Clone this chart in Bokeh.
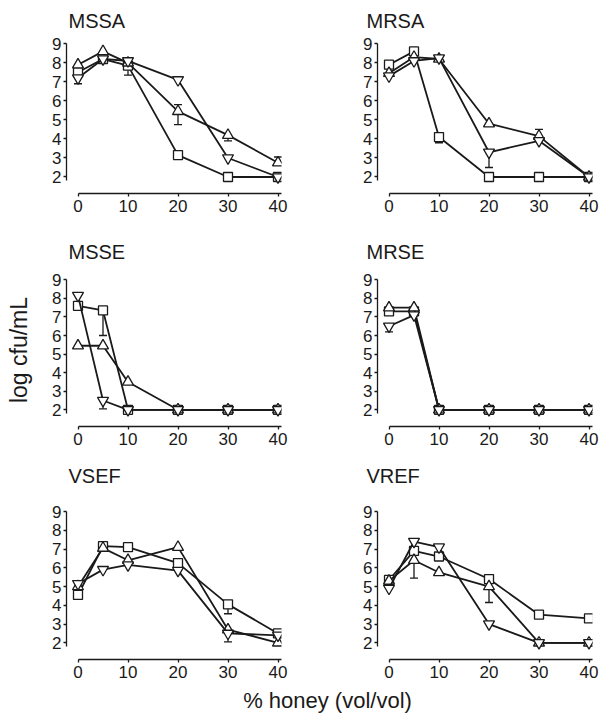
from bokeh.plotting import figure
from bokeh.models import Range1d, FixedTicker, Whisker, TeeHead, ColumnDataSource
from bokeh.layouts import column, row
from bokeh.embed import file_html
from bokeh.resources import INLINE
from bokeh.core.properties import value

# ---------------- data ----------------
honey = [0, 5, 10, 20, 30, 40]
x_ticks = [0, 10, 20, 30, 40]
y_ticks = [2, 3, 4, 5, 6, 7, 8, 9]
panel_names = ["MSSA", "MRSA", "MSSE", "MRSE", "VSEF", "VREF"]

square_vals = {
    "MSSA": [7.5, 8.2, 7.85, 3.15, 2.0, 2.0],
    "MRSA": [7.9, 8.6, 4.1, 2.0, 2.0, 2.0],
    "MSSE": [7.6, 7.35, 2.0, 2.0, 2.0, 2.0],
    "MRSE": [7.3, 7.3, 2.0, 2.0, 2.0, 2.0],
    "VSEF": [4.55, 7.15, 7.1, 6.25, 4.05, 2.5],
    "VREF": [5.35, 6.9, 6.6, 5.4, 3.5, 3.3],
}
triangle_vals = {
    "MSSA": [7.9, 8.6, 8.0, 5.45, 4.2, 2.75],
    "MRSA": [7.45, 8.3, 8.2, 4.8, 4.15, 2.0],
    "MSSE": [5.45, 5.45, 3.5, 2.0, 2.0, 2.0],
    "MRSE": [7.5, 7.5, 2.0, 2.0, 2.0, 2.0],
    "VSEF": [5.0, 7.05, 6.4, 7.1, 2.7, 2.0],
    "VREF": [5.3, 6.4, 5.75, 5.0, 2.0, 2.0],
}
invtri_vals = {
    "MSSA": [7.2, 8.2, 8.1, 7.1, 3.0, 2.0],
    "MRSA": [7.3, 8.1, 8.25, 3.3, 3.9, 2.0],
    "MSSE": [8.15, 2.5, 2.0, 2.0, 2.0, 2.0],
    "MRSE": [6.5, 7.1, 2.0, 2.0, 2.0, 2.0],
    "VSEF": [5.15, 5.9, 6.15, 5.85, 2.5, 2.4],
    "VREF": [4.9, 7.4, 7.1, 3.0, 2.0, 2.0],
}

# error bars (panel, x, lower end, upper end)
err_panel = ["MSSA", "MSSA", "MSSA", "MSSA", "MSSA", "MRSA", "MRSA", "MRSA",
             "MSSE", "MSSE", "MRSE", "VSEF", "VSEF", "VREF", "VREF"]
err_x = [0, 10, 20, 30, 40, 10, 20, 30, 5, 5, 0, 30, 30, 5, 20]
err_lo = [6.9, 7.35, 4.75, 3.9, 2.75, 3.8, 2.5, 4.15, 2.05, 6.0, 6.2, 3.55, 2.05, 5.45, 4.15]
err_hi = [7.2, 7.85, 5.8, 4.2, 3.05, 4.1, 3.3, 4.5, 2.5, 7.35, 6.5, 4.05, 2.5, 6.4, 5.0]

y_label = "log cfu/mL"
x_label = "% honey (vol/vol)"

# ---------------- styling ----------------
FONT = "Liberation Sans"
INK = "#1a1a1a"
X0, X1 = -2.3, 40.7

# per row: strip height, title center (from strip bottom), panel top border,
#          frame height, y start, y end, panel bottom border
row_specs = [
    (33, 12.5, 4, 156, 1.133, 9.33, 30),
    (40, 11.5, 10, 153, 1.10, 9.34, 30),
    (39, 19.5, 10, 154, 1.11, 9.32, 26),
]
# per column: min_border_left, min_border_right, width, title x (in strip)
col_specs = [(66, 10, 291, 68), (86, 7, 308, 75)]


def blank(width, height):
    f = figure(width=width, height=height, x_range=Range1d(0, width),
               y_range=Range1d(0, height), output_backend="svg",
               toolbar_location=None, title=None,
               min_border_left=0, min_border_right=0,
               min_border_top=0, min_border_bottom=0)
    f.axis.visible = False
    f.grid.visible = False
    f.outline_line_color = None
    return f


def make_strip(idx):
    r, c = divmod(idx, 2)
    sh, tc = row_specs[r][0], row_specs[r][1]
    w, tx = col_specs[c][2], col_specs[c][3]
    s = blank(w, sh)
    s.text(x=[tx], y=[tc], text=[panel_names[idx]], text_align="left",
           text_baseline="middle", text_font=value(FONT),
           text_font_size="20px", text_color=INK)
    return s


def make_panel(idx):
    name = panel_names[idx]
    r, c = divmod(idx, 2)
    _, _, top, fh, y0, y1, bottom = row_specs[r]
    left, right, w, _ = col_specs[c]
    p = figure(width=w, height=top + fh + bottom,
               x_range=Range1d(X0, X1), y_range=Range1d(y0, y1),
               output_backend="svg", toolbar_location=None, title=None,
               min_border_left=left, min_border_right=right,
               min_border_top=top, min_border_bottom=bottom)
    p.outline_line_color = None
    p.xgrid.visible = False
    p.ygrid.visible = False

    p.xaxis.ticker = FixedTicker(ticks=x_ticks)
    p.yaxis.ticker = FixedTicker(ticks=y_ticks)
    p.xaxis.bounds = (0, X1)
    p.yaxis.bounds = (1.8, 9)
    for ax in (p.xaxis[0], p.yaxis[0]):
        ax.axis_line_color = INK
        ax.axis_line_width = 1.3
        ax.major_tick_line_color = INK
        ax.major_tick_line_width = 1.3
        ax.major_tick_out = 3
        ax.major_tick_in = 0
        ax.minor_tick_line_color = None
        ax.major_label_text_font = FONT
        ax.major_label_text_font_size = "17px"
        ax.major_label_text_color = INK
    p.xaxis.major_label_standoff = 3
    p.yaxis.major_label_standoff = 2

    if idx == 2:
        p.yaxis.axis_label = y_label
        p.yaxis.axis_label_text_font = FONT
        p.yaxis.axis_label_text_font_size = "23px"
        p.yaxis.axis_label_text_font_style = "normal"
        p.yaxis.axis_label_text_color = INK
        p.yaxis.axis_label_standoff = 17

    # error bars
    ex = [x for pn, x in zip(err_panel, err_x) if pn == name]
    elo = [v for pn, v in zip(err_panel, err_lo) if pn == name]
    ehi = [v for pn, v in zip(err_panel, err_hi) if pn == name]
    if ex:
        src = ColumnDataSource(dict(x=ex, lo=elo, hi=ehi))
        wsk = Whisker(base="x", lower="lo", upper="hi", source=src,
                      line_color=INK, line_width=1.3, level="underlay",
                      lower_head=TeeHead(size=8, line_color=INK, line_width=1.3),
                      upper_head=TeeHead(size=8, line_color=INK, line_width=1.3))
        p.add_layout(wsk)

    for vals, marker, size in ((square_vals[name], "square", 9),
                               (triangle_vals[name], "triangle", 11),
                               (invtri_vals[name], "inverted_triangle", 11)):
        p.line(honey, vals, line_color=INK, line_width=1.8)
        p.scatter(honey, vals, marker=marker, size=size, fill_color="white",
                  line_color=INK, line_width=1.3)
    return p


children = []
for r in range(3):
    children.append(row(make_strip(2 * r), make_strip(2 * r + 1)))
    children.append(row(make_panel(2 * r), make_panel(2 * r + 1)))

# x label strip
xl = blank(599, 29)
xl.text(x=[327], y=[14], text=[x_label], text_align="center", text_baseline="middle",
        text_font=value(FONT), text_font_size="22px", text_color=INK)
children.append(xl)

layout = column(*children)

open("out.html", "w").write(file_html(layout, INLINE))
